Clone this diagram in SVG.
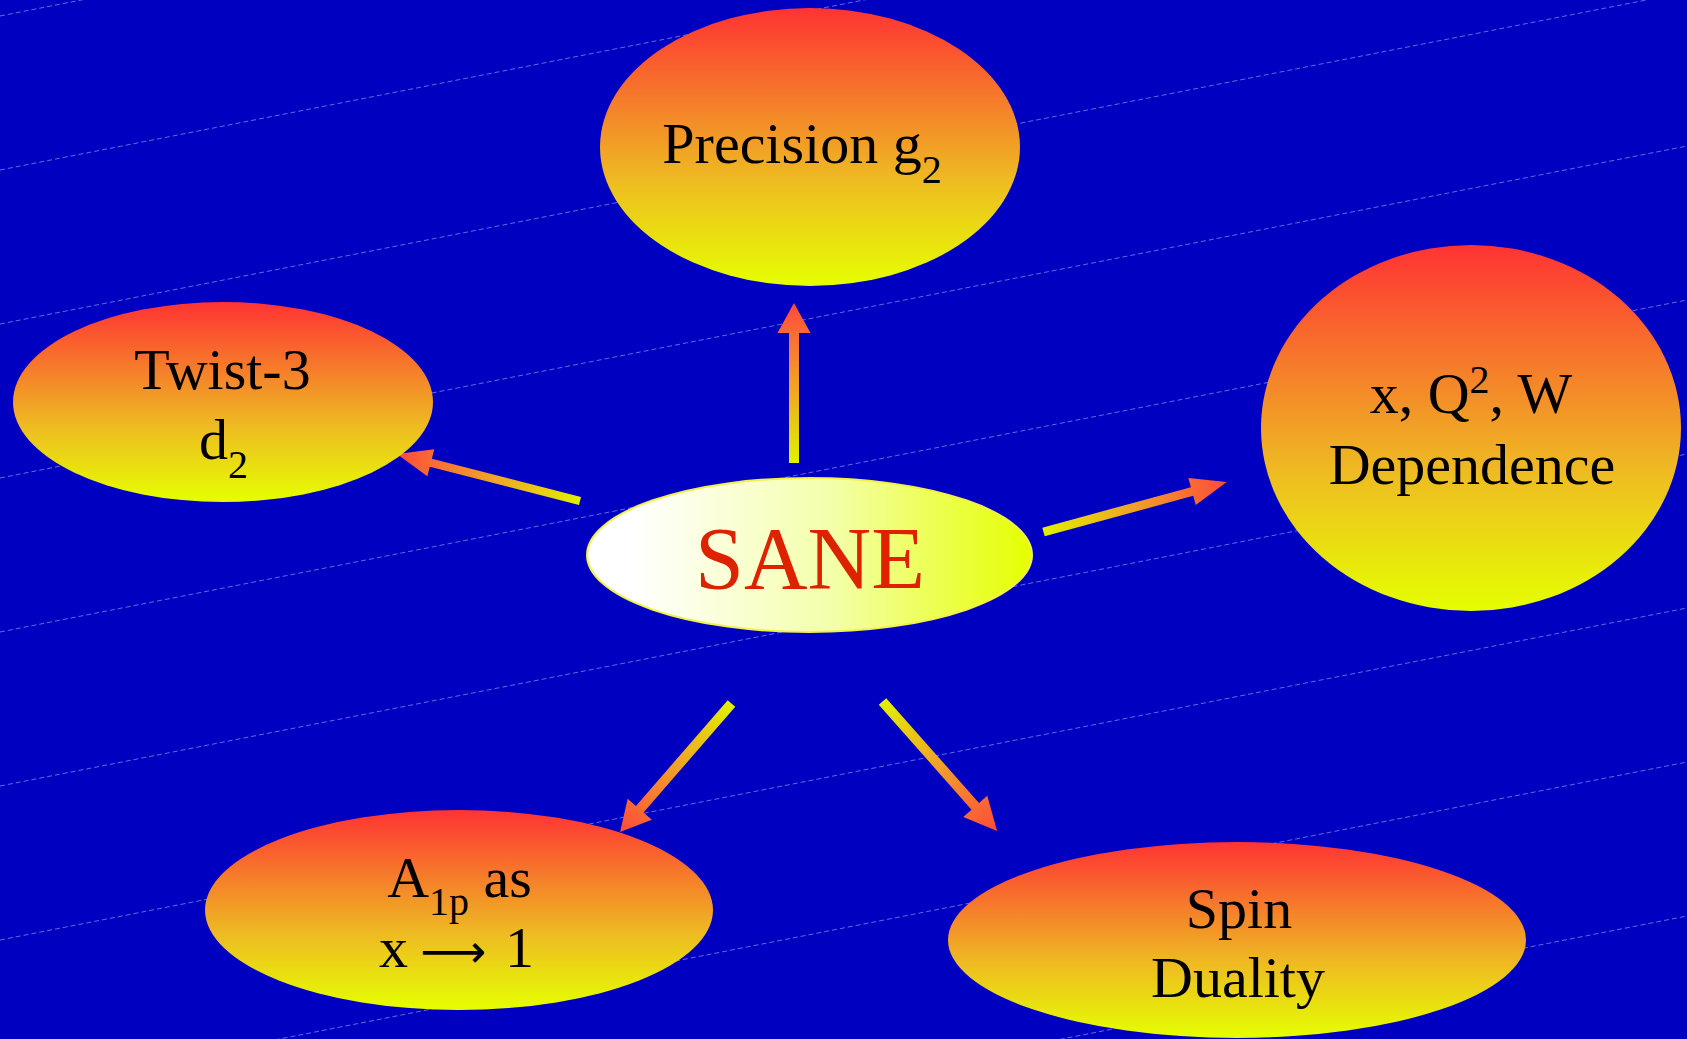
<svg xmlns="http://www.w3.org/2000/svg" width="1687" height="1039" viewBox="0 0 1687 1039">
  <style>
    .lbl { font-family: "Liberation Serif", "Times New Roman", serif; font-size: 58px; fill: #000; text-anchor: middle; }
    .sub { font-size: 40px; }
    .bg-line { stroke: #8a8af0; stroke-width: 1; stroke-dasharray: 5 3; fill: none; opacity: 0.75; }
    .node { fill: url(#nodeGrad); }
  </style>
  <defs>
    <linearGradient id="nodeGrad" x1="0" y1="0" x2="0" y2="1">
      <stop offset="0" stop-color="#ff3333"/>
      <stop offset="0.35" stop-color="#f5802a"/>
      <stop offset="0.62" stop-color="#eebb22"/>
      <stop offset="1" stop-color="#e5ff00"/>
    </linearGradient>
    <linearGradient id="saneGrad" x1="0" y1="0" x2="1" y2="0">
      <stop offset="0.1" stop-color="#ffffff"/>
      <stop offset="0.55" stop-color="#f4ffaa"/>
      <stop offset="1" stop-color="#e5ff00"/>
    </linearGradient>
    <linearGradient id="arrowGrad" x1="0" y1="0" x2="1" y2="0">
      <stop offset="0" stop-color="#e2f000"/>
      <stop offset="0.5" stop-color="#f0a028"/>
      <stop offset="1" stop-color="#ff4a3a"/>
    </linearGradient>
  </defs>

  <rect x="0" y="0" width="1687" height="1039" fill="#0000c0"/>

  <g id="background-lines">
    <line class="bg-line" x1="0" y1="16" x2="1687" y2="-316"/>
    <line class="bg-line" x1="0" y1="170" x2="1687" y2="-162"/>
    <line class="bg-line" x1="0" y1="324" x2="1687" y2="-8"/>
    <line class="bg-line" x1="0" y1="478" x2="1687" y2="146"/>
    <line class="bg-line" x1="0" y1="632" x2="1687" y2="300"/>
    <line class="bg-line" x1="0" y1="786" x2="1687" y2="454"/>
    <line class="bg-line" x1="0" y1="940" x2="1687" y2="608"/>
    <line class="bg-line" x1="0" y1="1094" x2="1687" y2="762"/>
    <line class="bg-line" x1="0" y1="1248" x2="1687" y2="916"/>
  </g>

  <g id="connectors">
    <path fill="url(#arrowGrad)" transform="translate(794,463) rotate(-90)" d="M0,-5 L130,-5 L130,-16.5 L160,0 L130,16.5 L130,5 L0,5 Z"/>
    <path fill="url(#arrowGrad)" transform="translate(1043.5,532) rotate(-15.24)" d="M0,-4.5 L154,-4.5 L154,-14 L190,0 L154,14 L154,4.5 L0,4.5 Z"/>
    <path fill="url(#arrowGrad)" transform="translate(580,501) rotate(-165.6)" d="M0,-4.2 L154,-4.2 L154,-14 L189,0 L154,14 L154,4.2 L0,4.2 Z"/>
    <path fill="url(#arrowGrad)" transform="translate(731.5,703.5) rotate(130.95)" d="M0,-5 L140,-5 L140,-16 L170,0 L140,16 L140,5 L0,5 Z"/>
    <path fill="url(#arrowGrad)" transform="translate(882.5,701.5) rotate(48.5)" d="M0,-5 L140,-5 L140,-16 L173,0 L140,16 L140,5 L0,5 Z"/>
  </g>

  <g id="node-precision">
    <ellipse class="node" cx="810" cy="147" rx="210" ry="139"/>
    <text class="lbl" x="802" y="163">Precision g<tspan class="sub" dy="20">2</tspan></text>
  </g>

  <g id="node-twist">
    <ellipse class="node" cx="223" cy="402" rx="210" ry="100"/>
    <text class="lbl" x="222.5" y="389">Twist-3</text>
    <text class="lbl" x="223.5" y="459">d<tspan class="sub" dy="19">2</tspan></text>
  </g>

  <g id="node-xq2w">
    <ellipse class="node" cx="1471" cy="428" rx="210" ry="183"/>
    <text class="lbl" x="1471" y="413">x, Q<tspan class="sub" dy="-20">2</tspan><tspan dy="20">, W</tspan></text>
    <text class="lbl" x="1472" y="484">Dependence</text>
  </g>

  <g id="node-sane">
    <ellipse cx="809.5" cy="555" rx="222.5" ry="77" fill="url(#saneGrad)" stroke="#f2f04a" stroke-width="2"/>
    <text class="lbl" x="810" y="588" style="font-size:88px;fill:#dd2200">SANE</text>
  </g>

  <g id="node-a1p">
    <ellipse class="node" cx="459" cy="910" rx="254" ry="100"/>
    <text class="lbl" x="459.5" y="897">A<tspan class="sub" dy="18">1p</tspan><tspan dy="-18"> as</tspan></text>
    <text class="lbl" y="967" style="text-anchor:start"><tspan x="379">x</tspan><tspan x="420" style="font-family:'DejaVu Sans',sans-serif;font-size:46px">⟶</tspan><tspan x="505">1</tspan></text>
  </g>

  <g id="node-spin">
    <ellipse class="node" cx="1237" cy="940" rx="289" ry="98"/>
    <text class="lbl" x="1239" y="928">Spin</text>
    <text class="lbl" x="1238" y="997">Duality</text>
  </g>
</svg>
